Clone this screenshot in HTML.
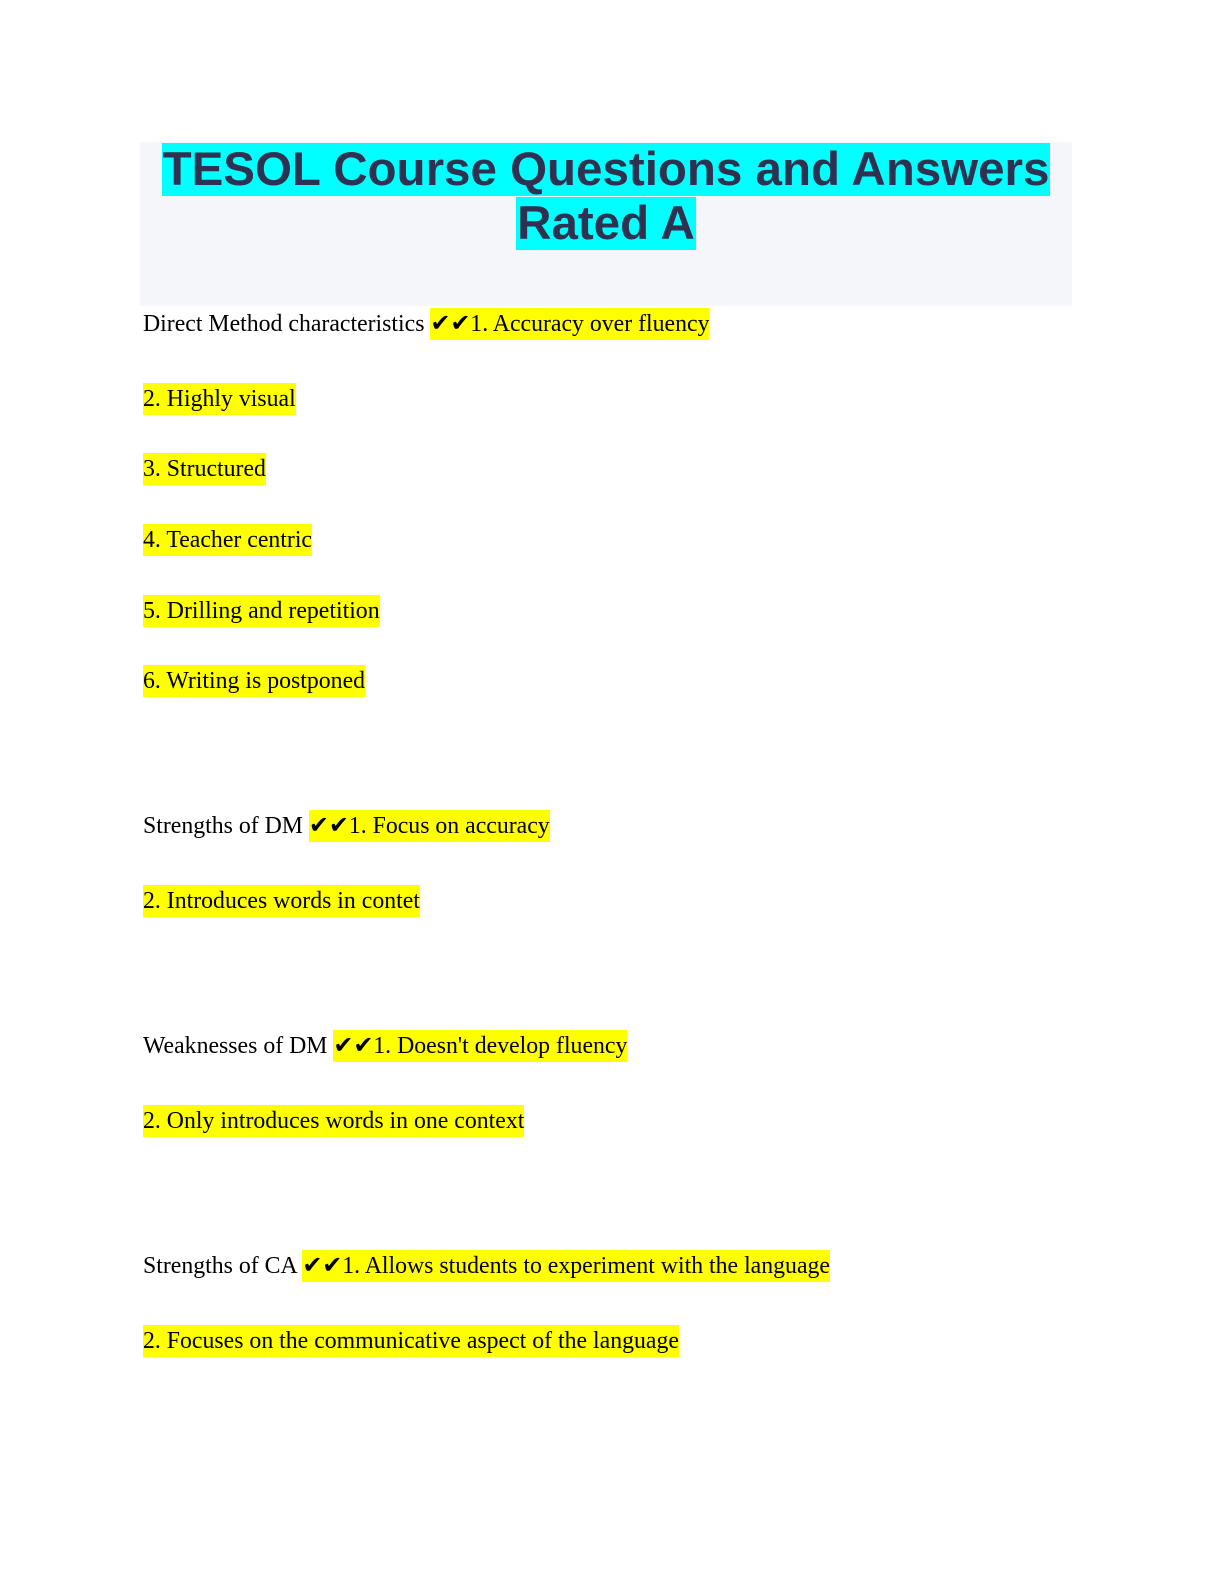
<!DOCTYPE html>
<html><head><meta charset="utf-8"><style>
body{margin:0;width:1224px;height:1584px;background:#fff;position:relative;font-family:"Liberation Serif",serif;}
.box{position:absolute;left:140px;top:142px;width:932px;height:164px;background:#f5f6fa;}
.t{position:absolute;left:0;width:1212px;text-align:center;font-family:"Liberation Sans",sans-serif;font-weight:bold;font-size:47.5px;color:#2e3250;line-height:54px;}
.t span{background:#00ffff;padding:0 1px;}
.l{position:absolute;left:143px;font-size:23.8px;line-height:32px;color:#000;white-space:nowrap;}
.h{background:#ffff00;display:inline-block;}
</style></head><body>
<div class="box"></div>
<div class="t" style="top:143px"><span>TESOL Course Questions and Answers</span></div>
<div class="t" style="top:197px"><span>Rated A</span></div>
<div class="l" style="top:308px">Direct Method characteristics <span class="h">✔✔1. Accuracy over fluency</span></div>
<div class="l" style="top:383px"><span class="h">2. Highly visual</span></div>
<div class="l" style="top:453px"><span class="h">3. Structured</span></div>
<div class="l" style="top:524px"><span class="h">4. Teacher centric</span></div>
<div class="l" style="top:595px"><span class="h">5. Drilling and repetition</span></div>
<div class="l" style="top:665px"><span class="h">6. Writing is postponed</span></div>
<div class="l" style="top:810px">Strengths of DM <span class="h">✔✔1. Focus on accuracy</span></div>
<div class="l" style="top:885px"><span class="h">2. Introduces words in contet</span></div>
<div class="l" style="top:1030px">Weaknesses of DM <span class="h">✔✔1. Doesn't develop fluency</span></div>
<div class="l" style="top:1105px"><span class="h">2. Only introduces words in one context</span></div>
<div class="l" style="top:1250px">Strengths of CA <span class="h">✔✔1. Allows students to experiment with the language</span></div>
<div class="l" style="top:1325px"><span class="h">2. Focuses on the communicative aspect of the language</span></div>
</body></html>
